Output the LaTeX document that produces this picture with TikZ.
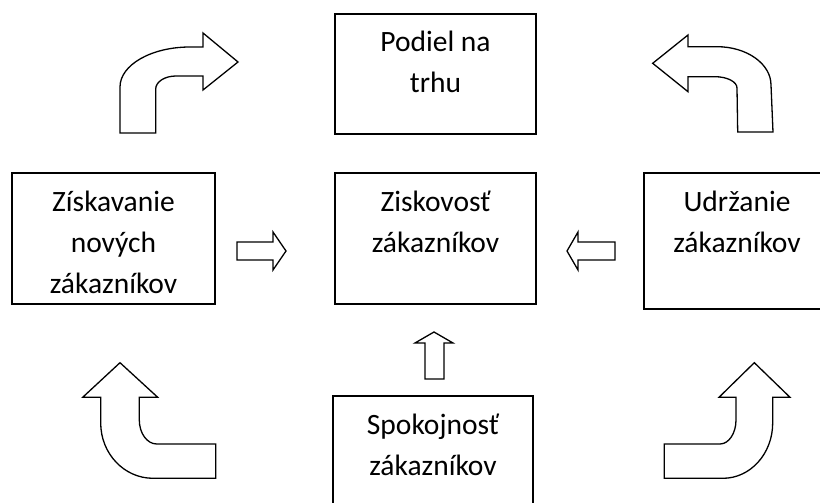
\documentclass[tikz,border=0pt]{standalone}
\usepackage{fontspec}
\setmainfont{Carlito}
\tikzset{
  box/.style={draw,line width=1.3pt,inner sep=0pt},
  lbl/.style={align=center,anchor=north,inner sep=0pt,font=\fontsize{29.5pt}{41pt}\selectfont},
  blok/.style={draw,line width=1.3pt,line join=miter,fill=white}
}
\newcommand{\prvy}{\rule{0pt}{29pt}}
\begin{document}
\begin{tikzpicture}[x=1pt,y=1pt]
      \clip (0,0) rectangle (820,503);

      \path (435.5,429)   node[box,minimum width=201pt,minimum height=120pt] (trh)  {};
      \path (435.5,264.5) node[box,minimum width=201pt,minimum height=131pt] (zisk) {};
      \path (113.5,264.5) node[box,minimum width=203pt,minimum height=131pt] (nov)  {};
      \path (737,262)     node[box,minimum width=186pt,minimum height=136pt] (udr)  {};
      \path (433,41.5)    node[box,minimum width=200pt,minimum height=131pt] (spok) {};

      \path ([yshift=-9pt]trh.north)  node[lbl] (trhT)  {\prvy Podiel na\\trhu};
      \path ([yshift=-10pt]zisk.north) node[lbl] (ziskT) {\prvy Ziskovosť\\zákazníkov};
      \path ([yshift=-10pt]nov.north)  node[lbl] (novT)  {\prvy Získavanie\\nových\\zákazníkov};
      \path ([yshift=-10pt]udr.north)  node[lbl] (udrT)  {\prvy Udržanie\\zákazníkov};
      \path ([yshift=-10pt]spok.north) node[lbl] (spokT) {\prvy Spokojnosť\\zákazníkov};

      % rovne sipky
      \draw[blok] (237,243) -- (273,243) -- (273,233) -- (286,252) -- (273,271) -- (273,261) -- (237,261) -- cycle; %nov-zisk
      \draw[blok] (615,243) -- (578,243) -- (578,233) -- (567,252) -- (578,271) -- (578,261) -- (615,261) -- cycle; %udr-zisk
      \draw[blok] (425,124) -- (425,160) -- (415,160) -- (434,171) -- (453,160) -- (444,160) -- (444,124) -- cycle; %spok-zisk

      % zahnute sipky
      \draw[blok] (120,370) -- (120,416) arc[start angle=180,end angle=90,x radius=70,y radius=40]
        -- (203,456) -- (203,470) -- (238,441) -- (203,413) -- (203,427) -- (176,427)
        arc[start angle=90,end angle=180,x radius=20.3,y radius=13] -- (155.7,370) -- cycle; %nov-trh
      \draw[blok] (773,371) -- (771,418) arc[start angle=0,end angle=90,x radius=54,y radius=38.3]
        -- (688,456.3) -- (688,468) -- (652.7,439.7) -- (688,411.3) -- (688,426.3) -- (715,426.3)
        arc[start angle=90,end angle=0,x radius=22,y radius=11.3] -- (737.7,371) -- cycle; %udr-trh
      \draw[blok] (82.7,105.7) -- (120,140.3) -- (157.7,105.7) -- (139.3,105.7) -- (139.3,83)
        arc[start angle=180,end angle=270,x radius=17.4,y radius=24] -- (215.7,59) -- (215.7,24.7) -- (153,24.7)
        arc[start angle=270,end angle=180,x radius=52.3,y radius=55.3] -- (100.7,105.7) -- cycle; %spok-nov
      \draw[blok] (719,105.7) -- (754.3,140.3) -- (790,105.7) -- (772.7,105.7) -- (772.7,80)
        arc[start angle=0,end angle=-90,x radius=49.7,y radius=55.3] -- (664.3,24.7) -- (664.3,59) -- (720,59)
        arc[start angle=270,end angle=360,x radius=16,y radius=24] -- (736,105.7) -- cycle; %spok-udr

\end{tikzpicture}
\end{document}
